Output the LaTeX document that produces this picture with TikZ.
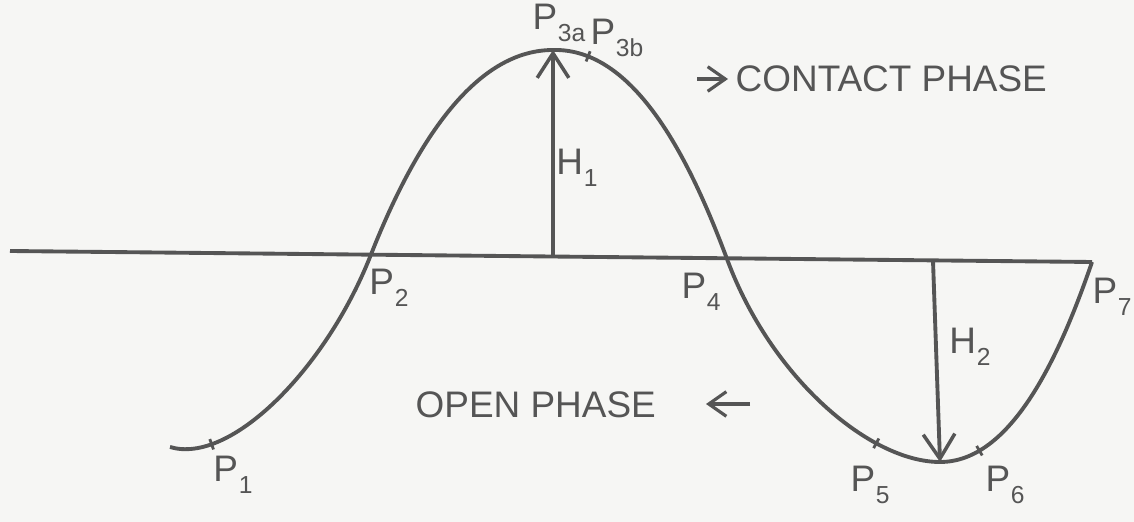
\documentclass[tikz,border=0pt]{standalone}
\usepackage{fontspec}
\setmainfont{Liberation Sans}
\usepackage{tikz}
\usepackage{xcolor}
\usetikzlibrary{arrows.meta}

\definecolor{ink}{RGB}{85,85,85}
\definecolor{paper}{RGB}{246,246,244}
\newcommand{\pname}[2]{#1\kern0.2pt\raisebox{-0.6ex}{\fontsize{7}{8}\selectfont #2}}

\tikzset{
  pen/.style={draw=ink,line width=1.1pt},
  tip/.style={-{Straight Barb[length=7pt,width=9pt,line width=1pt]}},
  tickmark/.style={sloped,draw=ink,line width=0.8pt,shape=rectangle,
    inner sep=0pt,minimum width=0pt,minimum height=1.1mm},
  lbl/.style={text=ink,font=\fontsize{10.5}{12}\selectfont,inner sep=0pt}
}

\begin{document}
\begin{tikzpicture}[x=0.01cm,y=-0.01cm]
  \fill[paper] (0,0) rectangle (1134,522);
  \useasboundingbox (0,0) rectangle (1134,522);

  % axis
  \coordinate (axl) at (10,251);
  \coordinate (axr) at (1092,262);
  \draw[pen] (axl) -- (axr);

  % points on the wave
  \coordinate (w0) at (170,447);
  \coordinate (w2) at (370,257);
  \coordinate (top1) at (553,50);
  \coordinate (w4) at (727,259);
  \coordinate (bot2) at (940,462);

  % the wave, with its tick marks
  \draw[pen] (w0) .. controls (230,465) and (325,370) .. node[tickmark,pos=0.21]{} (w2)
    .. controls (410,155) and (470,50) .. (top1)
    .. controls (635,48) and (690,160) .. node[tickmark,pos=0.15]{} (w4)
    .. controls (771,378) and (870,462) .. node[tickmark,pos=0.72]{} (bot2)
    .. controls (1010,462) and (1058,361) .. node[tickmark,pos=0.2]{} (axr);

  % heights
  \coordinate (base1) at (553,257);
  \coordinate (base2) at (933,261);
  \draw[pen,tip] (base1) -- (top1);
  \draw[pen,tip] (base2) -- (bot2);

  % labels
  \node[lbl] (p1) at (233,475) {\pname{P}{1}};
  \node[lbl] (p2) at (389,288) {\pname{P}{2}};
  \node[lbl] (p3a) at (559,23) {\pname{P}{3a}};
  \node[lbl] (p3b) at (617,38) {\pname{P}{3b}};
  \node[lbl] (p4) at (701,292) {\pname{P}{4}};
  \node[lbl] (p5) at (870,485) {\pname{P}{5}};
  \node[lbl] (p6) at (1005,485) {\pname{P}{6}};
  \node[lbl] (p7) at (1112,297) {\pname{P}{7}};
  \node[lbl] (h1) at (577,168) {\pname{H}{1}};
  \node[lbl] (h2) at (970,347) {\pname{H}{2}};

  % phase arrows
  \node[lbl,anchor=west] (contact) at (735,79) {CONTACT PHASE};
  \node[lbl,anchor=west] (open) at (415,405) {OPEN PHASE};
  \coordinate (ca) at (697,79);
  \coordinate (cb) at (728,79);
  \coordinate (oa) at (750,404);
  \coordinate (ob) at (706,404);
  \draw[pen,line width=0.9pt,-{Straight Barb[length=5pt,width=7pt]}] (ca) -- (cb);
  \draw[pen,line width=0.9pt,-{Straight Barb[length=5pt,width=7pt]}] (oa) -- (ob);
\end{tikzpicture}
\end{document}
